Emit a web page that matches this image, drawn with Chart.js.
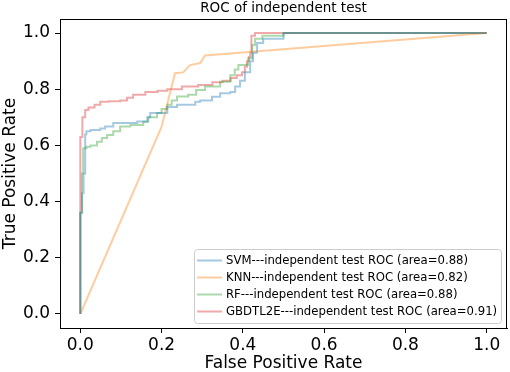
<!DOCTYPE html>
<html>
<head>
<meta charset="utf-8">
<script src="https://cdn.jsdelivr.net/npm/chart.js@4.4.0/dist/chart.umd.min.js"></script>
<style>
  body { margin: 0; background: #fff; }
  #wrap { width: 510px; height: 372px; }
</style>
</head>
<body>
<div id="wrap"><canvas id="rocChart" width="510" height="372"></canvas></div>
<script>
// values
const xTicks = [0, 0.2, 0.4, 0.6, 0.8, 1.0];
const yTicks = [0, 0.2, 0.4, 0.6, 0.8, 1.0];

const svmFpr = [0, 0, 0.004, 0.008, 0.012, 0.015, 0.025, 0.049, 0.061, 0.081, 0.14, 0.165, 0.172, 0.214, 0.238, 0.283, 0.295, 0.324, 0.344, 0.369, 0.381, 0.393, 0.405, 0.418, 0.425, 0.435, 0.45, 0.5, 1.0];
const svmTpr = [0, 0.36, 0.43, 0.50, 0.64, 0.65, 0.655, 0.66, 0.667, 0.68, 0.685, 0.70, 0.715, 0.737, 0.745, 0.755, 0.76, 0.773, 0.786, 0.79, 0.81, 0.83, 0.86, 0.90, 0.93, 0.965, 0.98, 1.0, 1.0];

const knnFpr = [0, 0.2, 0.233, 0.253, 0.27, 0.295, 0.307, 1.0];
const knnTpr = [0, 0.667, 0.857, 0.86, 0.886, 0.893, 0.92, 1.0];

const rfFpr = [0, 0, 0.004, 0.007, 0.015, 0.025, 0.041, 0.053, 0.066, 0.081, 0.098, 0.123, 0.155, 0.167, 0.189, 0.2, 0.214, 0.225, 0.238, 0.265, 0.285, 0.307, 0.344, 0.369, 0.38, 0.389, 0.413, 0.423, 0.43, 0.448, 0.5, 1.0];
const rfTpr = [0, 0.36, 0.50, 0.59, 0.595, 0.60, 0.613, 0.626, 0.637, 0.65, 0.667, 0.673, 0.684, 0.70, 0.715, 0.73, 0.745, 0.76, 0.774, 0.78, 0.797, 0.81, 0.827, 0.85, 0.87, 0.886, 0.91, 0.957, 0.98, 0.99, 1.0, 1.0];

const gbdtFpr = [0, 0, 0.005, 0.012, 0.02, 0.035, 0.049, 0.07, 0.098, 0.115, 0.13, 0.16, 0.19, 0.214, 0.25, 0.29, 0.325, 0.35, 0.37, 0.385, 0.398, 0.405, 0.41, 0.415, 0.418, 0.421, 0.43, 1.0];
const gbdtTpr = [0, 0.63, 0.70, 0.726, 0.735, 0.745, 0.755, 0.757, 0.76, 0.77, 0.78, 0.79, 0.795, 0.80, 0.81, 0.815, 0.825, 0.83, 0.84, 0.85, 0.86, 0.88, 0.90, 0.915, 0.93, 0.99, 1.0, 1.0];

const seriesLabels = [
    "SVM---independent test ROC (area=0.88)",
    "KNN---independent test ROC (area=0.82)",
    "RF---independent test ROC (area=0.88)",
    "GBDTL2E---independent test ROC (area=0.91)"
];

const FONT = "'DejaVu Sans', sans-serif";

function toPoints(xs, ys) {
    return xs.map((x, i) => ({ x: x, y: ys[i] }));
}

// box around the axes, title on top, legend in the lower right corner
const framePlugin = {
    id: "frame",
    afterDraw(chart) {
        const { ctx, chartArea: a } = chart;
        ctx.save();
        ctx.strokeStyle = "#000";
        ctx.lineWidth = 1;
        ctx.strokeRect(Math.round(a.left) + 0.5, Math.round(a.top) + 0.5,
            Math.round(a.right - a.left) - 1, Math.round(a.bottom - a.top));

        ctx.fillStyle = "#000";
        ctx.font = "13.5px " + FONT;
        ctx.textAlign = "center";
        ctx.textBaseline = "middle";
        ctx.fillText("ROC of independent test", (a.left + a.right) / 2, 8);

        const boxRight = a.right - 6, boxBottom = a.bottom - 5;
        const boxLeft = a.left + 134, boxTop = boxBottom - 74;
        ctx.beginPath();
        ctx.roundRect(boxLeft + 0.5, boxTop + 0.5, boxRight - boxLeft, boxBottom - boxTop, 3);
        ctx.fillStyle = "rgba(255,255,255,0.8)";
        ctx.fill();
        ctx.strokeStyle = "#cccccc";
        ctx.stroke();

        ctx.font = "11.7px " + FONT;
        ctx.textAlign = "left";
        chart.data.datasets.forEach((ds, i) => {
            const y = boxTop + 11.5 + i * 17;
            ctx.beginPath();
            ctx.moveTo(boxLeft + 3, y);
            ctx.lineTo(boxLeft + 28, y);
            ctx.strokeStyle = ds.borderColor;
            ctx.lineWidth = 2;
            ctx.stroke();
            ctx.fillStyle = "#000";
            ctx.fillText(ds.label, boxLeft + 32, y);
        });
        ctx.restore();
    }
};

function renderChart(canvasId) {
    const ctx = document.getElementById(canvasId);
    const lineSet = (label, xs, ys, color, stepped) => ({
        label: label,
        data: toPoints(xs, ys),
        showLine: true,
        stepped: stepped ? "before" : false,
        borderColor: color,
        backgroundColor: color,
        borderWidth: 2,
        pointRadius: 0,
        tension: 0
    });
    const tickStyle = { color: "#000", font: { family: FONT, size: 17 } };

    return new Chart(ctx, {
        type: "scatter",
        data: {
            datasets: [
                lineSet(seriesLabels[0], svmFpr, svmTpr, "rgba(31,119,180,0.4)", true),
                lineSet(seriesLabels[1], knnFpr, knnTpr, "rgba(255,127,14,0.4)", false),
                lineSet(seriesLabels[2], rfFpr, rfTpr, "rgba(44,160,44,0.4)", true),
                lineSet(seriesLabels[3], gbdtFpr, gbdtTpr, "rgba(214,39,40,0.4)", true)
            ]
        },
        options: {
            responsive: false,
            animation: false,
            layout: { padding: { top: 19, right: 3, left: 0, bottom: 0 } },
            plugins: {
                legend: { display: false },
                title: { display: false },
                tooltip: { enabled: false }
            },
            scales: {
                x: {
                    type: "linear",
                    min: -0.05,
                    max: 1.05,
                    afterBuildTicks: s => { s.ticks = xTicks.map(v => ({ value: v })); },
                    afterFit: s => { s.height = 44; },
                    grid: { drawOnChartArea: false, drawTicks: true, tickLength: 5, color: "#000" },
                    border: { display: true, color: "#000" },
                    ticks: Object.assign({ padding: 2, autoSkip: false, maxRotation: 0, callback: v => v.toFixed(1) }, tickStyle),
                    title: { display: true, text: "False Positive Rate", color: "#000", font: { family: FONT, size: 17, lineHeight: 1 }, padding: { top: 0, bottom: 0 } }
                },
                y: {
                    type: "linear",
                    min: -0.05,
                    max: 1.05,
                    afterBuildTicks: s => { s.ticks = yTicks.map(v => ({ value: v })); },
                    afterFit: s => { s.width = 60; },
                    grid: { drawOnChartArea: false, drawTicks: true, tickLength: 5, color: "#000" },
                    border: { display: true, color: "#000" },
                    ticks: Object.assign({ padding: 5, autoSkip: false, callback: v => v.toFixed(1) }, tickStyle),
                    title: { display: true, text: "True Positive Rate", color: "#000", font: { family: FONT, size: 17, lineHeight: 1 }, padding: { top: 2, bottom: 0 } }
                }
            }
        },
        plugins: [framePlugin]
    });
}

document.addEventListener("DOMContentLoaded", () => {
    renderChart("rocChart");
});
</script>
</body>
</html>
